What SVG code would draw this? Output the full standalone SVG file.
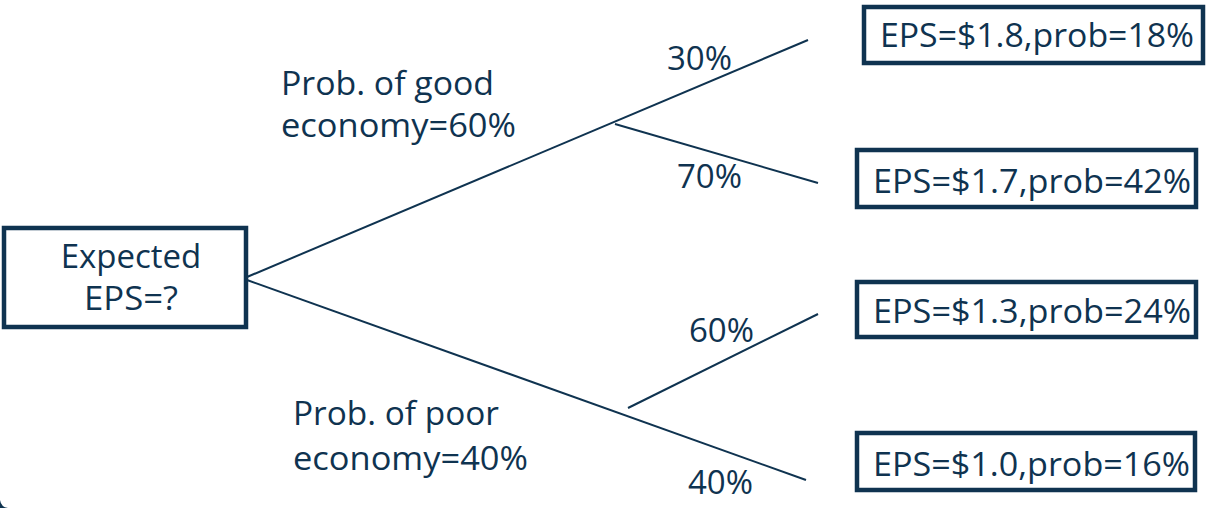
<svg xmlns="http://www.w3.org/2000/svg" width="1207" height="508" viewBox="0 0 1207 508">
<style>
.box{fill:#ffffff;stroke:#0f3350;stroke-width:4.5}
.t{font-family:"Open Sans","Noto Sans","DejaVu Sans",sans-serif;font-size:33px;fill:#0f3350}
.m{text-anchor:middle}
.ln{stroke:#0f3350;stroke-width:2;fill:none}
</style>
<rect x="0" y="0" width="1207" height="508" fill="#ffffff"/>
<path d="M0,500 Q1,507 8,508 L0,508 Z" fill="#0f3350"/>
<g id="connectors">
<line class="ln" x1="247" y1="277" x2="808" y2="40"/>
<line class="ln" x1="615" y1="124" x2="818" y2="183"/>
<line class="ln" x1="247" y1="280" x2="806" y2="480"/>
<line class="ln" x1="628" y1="408" x2="818" y2="314"/>
</g>
<g id="labels">
<text class="t" x="667" y="70">30%</text>
<text class="t" x="677" y="188">70%</text>
<text class="t" x="689" y="342">60%</text>
<text class="t" x="688" y="494">40%</text>
<text class="t" x="281" y="95" textLength="213" lengthAdjust="spacingAndGlyphs">Prob. of good</text>
<text class="t" x="281" y="137" textLength="235" lengthAdjust="spacingAndGlyphs">economy=60%</text>
<text class="t" x="293" y="425" textLength="206" lengthAdjust="spacingAndGlyphs">Prob. of poor</text>
<text class="t" x="293" y="470" textLength="235" lengthAdjust="spacingAndGlyphs">economy=40%</text>
</g>
<g id="node-expected">
<rect class="box" x="4" y="228" width="242" height="99"/>
<text class="t m" x="131" y="268">Expected</text>
<text class="t" x="84" y="310" textLength="94" lengthAdjust="spacingAndGlyphs">EPS=?</text>
</g>
<g id="node-1">
<rect class="box" x="864" y="7" width="339" height="56"/>
<text class="t" x="880" y="47" textLength="314" lengthAdjust="spacingAndGlyphs">EPS=$1.8,prob=18%</text>
</g>
<g id="node-2">
<rect class="box" x="857" y="150" width="339" height="57"/>
<text class="t" x="873" y="193" textLength="318" lengthAdjust="spacingAndGlyphs">EPS=$1.7,prob=42%</text>
</g>
<g id="node-3">
<rect class="box" x="857" y="282" width="339" height="55"/>
<text class="t" x="873" y="323" textLength="318" lengthAdjust="spacingAndGlyphs">EPS=$1.3,prob=24%</text>
</g>
<g id="node-4">
<rect class="box" x="857" y="433" width="338" height="57"/>
<text class="t" x="873" y="476" textLength="317" lengthAdjust="spacingAndGlyphs">EPS=$1.0,prob=16%</text>
</g>
</svg>
